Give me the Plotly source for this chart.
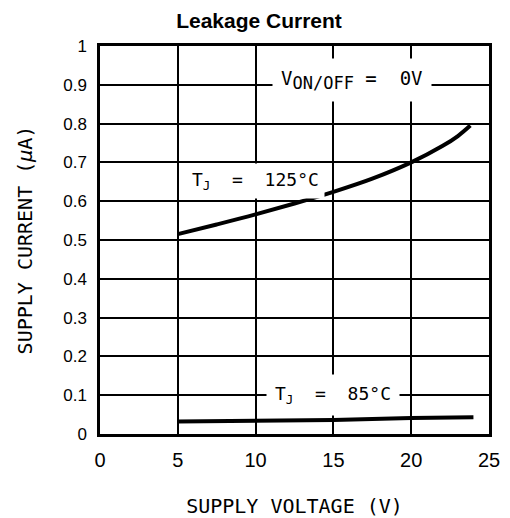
import plotly.graph_objects as go

# Data
v_125 = [5, 7.5, 10, 12.5, 15, 17.5, 20, 22, 23, 23.8]
i_125 = [0.515, 0.54, 0.566, 0.594, 0.624, 0.658, 0.70, 0.742, 0.768, 0.795]

v_85 = [5, 10, 15, 20, 24]
i_85 = [0.032, 0.033, 0.036, 0.041, 0.043]

x_ticks = [0, 5, 10, 15, 20, 25]
y_ticks = [0, 0.1, 0.2, 0.3, 0.4, 0.5, 0.6, 0.7, 0.8, 0.9, 1]
y_tick_labels = ["0", "0.1", "0.2", "0.3", "0.4", "0.5", "0.6", "0.7", "0.8", "0.9", "1"]

mono = "DejaVu Sans Mono"
sans = "Liberation Sans, Arial"

fig = go.Figure()
fig.add_trace(go.Scatter(x=v_125, y=i_125, mode="lines", line=dict(color="black", width=4, shape="spline"),
                         showlegend=False, hoverinfo="skip"))
fig.add_trace(go.Scatter(x=v_85, y=i_85, mode="lines", line=dict(color="black", width=4),
                         showlegend=False, hoverinfo="skip"))

fig.add_annotation(x=16.2, y=0.912, xref="x", yref="y",
                   text="V<sub><span style='font-size:17px'>ON/OFF</span></sub> =  0V", showarrow=False,
                   font=dict(family=mono, size=19, color="black"),
                   bgcolor="white", borderpad=8)
fig.add_annotation(x=10, y=0.652, xref="x", yref="y",
                   text="T<sub>J</sub>  =  125°C", showarrow=False,
                   font=dict(family=mono, size=18, color="black"),
                   bgcolor="white", borderpad=5)
fig.add_annotation(x=15, y=0.10, xref="x", yref="y",
                   text="T<sub>J</sub>  =  85°C", showarrow=False,
                   font=dict(family=mono, size=18, color="black"),
                   bgcolor="white", borderpad=8)

fig.update_layout(
    width=502, height=510,
    margin=dict(l=92, r=21, t=38, b=84),
    paper_bgcolor="white", plot_bgcolor="white",
    title=dict(text="<b>Leakage Current</b>", x=0.5, xanchor="center", y=0.976, yanchor="middle",
               font=dict(family=sans, size=21, color="black")),
    xaxis=dict(range=[0, 25], tickvals=x_ticks, ticktext=[str(t) for t in x_ticks],
               showgrid=True, gridcolor="black", gridwidth=1.6,
               showline=True, linecolor="black", linewidth=2.5, mirror=True,
               ticks="", ticklabelstandoff=6, zeroline=False, automargin=False,
               tickfont=dict(family=sans, size=20, color="black"),
               title=dict(text="SUPPLY VOLTAGE (V)", standoff=30,
                          font=dict(family=mono, size=20, color="black"))),
    yaxis=dict(range=[0, 1], tickvals=y_ticks, ticktext=y_tick_labels,
               showgrid=True, gridcolor="black", gridwidth=1.6,
               showline=True, linecolor="black", linewidth=2.5, mirror=True,
               ticks="", ticklabelstandoff=7, zeroline=False, automargin=False,
               tickfont=dict(family=sans, size=17, color="black"),
               title=dict(text="SUPPLY CURRENT (<i>μ</i>A)", standoff=26,
                          font=dict(family=mono, size=20, color="black"))),
)

fig.write_html("out.html")
